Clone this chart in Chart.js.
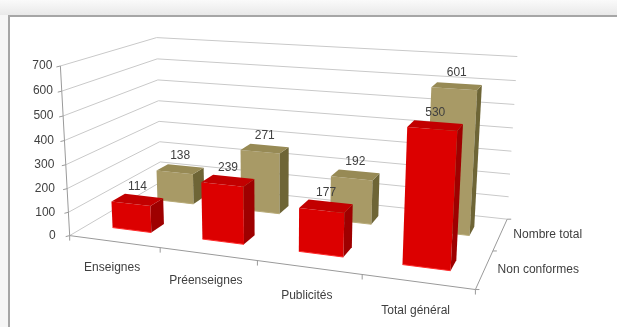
<!DOCTYPE html>
<html>
<head>
<meta charset="utf-8">
<script src="https://cdn.jsdelivr.net/npm/chart.js@4.4.1/dist/chart.umd.min.js"></script>
<style>
  html, body { margin: 0; padding: 0; background: #ffffff; }
  #wrap { position: relative; width: 617px; height: 327px; overflow: hidden; background: #ffffff; }
  #topband { position: absolute; left: 0; top: 0; width: 617px; height: 15px;
    background: linear-gradient(#fafafa, #e9e9e9); }
  #frame { position: absolute; left: 8px; top: 15px; width: 640px; height: 340px;
    border-top: 2px solid #a6a6a6; border-left: 2px solid #a6a6a6; background: #ffffff; }
  #leftband { position: absolute; left: 0; top: 15px; width: 8px; height: 320px; background: #f6f6f6; }
  canvas { position: absolute; left: 0; top: 0; }
</style>
</head>
<body>
<div id="wrap">
  <div id="topband"></div>
  <div id="leftband"></div>
  <div id="frame"></div>
  <canvas id="c" width="617" height="327"></canvas>
</div>
<script>
// ---------------- data ----------------
const categories = ['Enseignes', 'Préenseignes', 'Publicités', 'Total général'];
const seriesLabels = ['Non conformes', 'Nombre total'];
const nonConformes = [114, 239, 177, 530];
const nombreTotal = [138, 271, 192, 601];
const yTickValues = [0, 100, 200, 300, 400, 500, 600, 700];

// ---------------- style / layout ----------------
const FONT = '12px "Liberation Sans", Arial, sans-serif';
const TEXT_COLOR = '#404040';
const GRID_COLOR = '#c9c9c9';
const AXIS_COLOR = '#9a9a9a';
const seriesFaces = [
  { front: '#dc0000', side: '#9e0000', top: '#c20000', edge: '#ff2a2a' },
  { front: '#a89a66', side: '#6e6536', top: '#978a55', edge: '#b8ab78' }
];
// Perspective frame of the 3D box: (u along categories, v along values, d in depth) -> canvas pixel
const frameAnchors = [
  [0, 0, 0, 71, 233], [0, 1, 0, 59, 65], [0, 0, 1, 159, 183], [0, 1, 1, 158, 38],
  [1, 1, 1, 517, 57], [1, 0, 1, 508, 217], [1, 0, 0, 475, 289],
  [0.25, 0, 0, 161, 249], [0.5, 0, 0, 258, 261], [0.75, 0, 0, 361, 277], [1, 0, 0.5, 493, 251]
];
const BAR_FRACTION = 0.44;   // bar width relative to category width
const DEPTH_FRACTION = 0.28; // bar depth relative to series row depth

function solveLinear(A, b) {
  const n = b.length;
  for (let c = 0; c < n; c++) {
    let p = c;
    for (let r = c + 1; r < n; r++) if (Math.abs(A[r][c]) > Math.abs(A[p][c])) p = r;
    [A[c], A[p]] = [A[p], A[c]]; [b[c], b[p]] = [b[p], b[c]];
    for (let r = c + 1; r < n; r++) {
      const f = A[r][c] / A[c][c];
      for (let k = c; k < n; k++) A[r][k] -= f * A[c][k];
      b[r] -= f * b[c];
    }
  }
  const x = new Array(n).fill(0);
  for (let r = n - 1; r >= 0; r--) {
    let s = b[r];
    for (let k = r + 1; k < n; k++) s -= A[r][k] * x[k];
    x[r] = s / A[r][r];
  }
  return x;
}
function fitCamera(pts) {
  const S = 100;
  const A = Array.from({ length: 11 }, () => new Array(11).fill(0));
  const b = new Array(11).fill(0);
  pts.forEach(([X, Y, Z, px, py]) => {
    const x = px / S, y = py / S;
    const rows = [
      [[X, Y, Z, 1, 0, 0, 0, 0, -x * X, -x * Y, -x * Z], x],
      [[0, 0, 0, 0, X, Y, Z, 1, -y * X, -y * Y, -y * Z], y]
    ];
    rows.forEach(([r, rhs]) => {
      for (let i = 0; i < 11; i++) {
        b[i] += r[i] * rhs;
        for (let j = 0; j < 11; j++) A[i][j] += r[i] * r[j];
      }
    });
  });
  const p = solveLinear(A, b);
  return (X, Y, Z) => {
    const w = p[8] * X + p[9] * Y + p[10] * Z + 1;
    return { x: S * (p[0] * X + p[1] * Y + p[2] * Z + p[3]) / w,
             y: S * (p[4] * X + p[5] * Y + p[6] * Z + p[7]) / w };
  };
}
const P = fitCamera(frameAnchors);

function poly(ctx, pts, fill) {
  ctx.beginPath();
  pts.forEach((q, i) => { const s = P(q[0], q[1], q[2]); i ? ctx.lineTo(s.x, s.y) : ctx.moveTo(s.x, s.y); });
  ctx.closePath();
  ctx.fillStyle = fill; ctx.fill();
}
function line(ctx, a, b, color) {
  const s = P(a[0], a[1], a[2]), e = P(b[0], b[1], b[2]);
  ctx.beginPath(); ctx.moveTo(s.x, s.y); ctx.lineTo(e.x, e.y);
  ctx.strokeStyle = color; ctx.lineWidth = 1; ctx.stroke();
}

const bars3d = {
  id: 'bars3d',
  afterDatasetsDraw(chart) {
    const ctx = chart.ctx, xs = chart.scales.x, ys = chart.scales.y, area = chart.chartArea;
    const uOf = px => (px - area.left) / area.width;
    const y0 = ys.getPixelForValue(ys.min), yTop = ys.getPixelForValue(ys.max);
    const vOf = val => (y0 - ys.getPixelForValue(val)) / (y0 - yTop);
    const nCat = chart.data.labels.length, nSer = chart.data.datasets.length;
    const catW = uOf(xs.getPixelForValue(1)) - uOf(xs.getPixelForValue(0));
    ctx.save();
    // walls gridlines
    ys.ticks.forEach(t => {
      const v = vOf(t.value);
      line(ctx, [0, v, 0], [0, v, 1], GRID_COLOR);
      line(ctx, [0, v, 1], [1, v, 1], GRID_COLOR);
    });
    // axes
    line(ctx, [0, 0, 0], [0, 1, 0], AXIS_COLOR);
    line(ctx, [0, 0, 0], [1, 0, 0], AXIS_COLOR);
    line(ctx, [1, 0, 0], [1, 0, 1], AXIS_COLOR);
    // ticks and y labels
    ctx.font = FONT; ctx.fillStyle = TEXT_COLOR;
    ctx.textAlign = 'right'; ctx.textBaseline = 'middle';
    ys.ticks.forEach(t => {
      const v = vOf(t.value); const s = P(0, v, 0);
      ctx.beginPath(); ctx.moveTo(s.x, s.y); ctx.lineTo(s.x - 4, s.y + 1);
      ctx.strokeStyle = AXIS_COLOR; ctx.stroke();
      ctx.fillStyle = TEXT_COLOR;
      ctx.fillText(String(t.value), s.x - 8 - 6 * (1 - v), s.y);
    });
    for (let k = 0; k <= nCat; k++) {
      const s = P(k / nCat, 0, 0);
      ctx.beginPath(); ctx.moveTo(s.x, s.y); ctx.lineTo(s.x, s.y + 5);
      ctx.strokeStyle = AXIS_COLOR; ctx.stroke();
    }
    for (let k = 0; k <= nSer; k++) {
      const s = P(1, 0, k / nSer);
      ctx.beginPath(); ctx.moveTo(s.x, s.y); ctx.lineTo(s.x + 4, s.y);
      ctx.strokeStyle = AXIS_COLOR; ctx.stroke();
    }
    // bars: back row first, left to right
    const labels = [];
    for (let s = nSer - 1; s >= 0; s--) {
      const ds = chart.data.datasets[s], faces = seriesFaces[s];
      const dc = (s + 0.5) / nSer, hd = DEPTH_FRACTION / nSer / 2;
      const d0 = dc - hd, d1 = dc + hd;
      ds.data.forEach((val, i) => {
        const uc = uOf(xs.getPixelForValue(i)), hu = catW * BAR_FRACTION / 2;
        const u0 = uc - hu, u1 = uc + hu, v = vOf(val);
        poly(ctx, [[u0, 0, d0], [u1, 0, d0], [u1, v, d0], [u0, v, d0]], faces.front);
        poly(ctx, [[u1, 0, d0], [u1, 0, d1], [u1, v, d1], [u1, v, d0]], faces.side);
        poly(ctx, [[u0, v, d0], [u1, v, d0], [u1, v, d1], [u0, v, d1]], faces.top);
        line(ctx, [u0, 0, d0], [u1, 0, d0], faces.edge);
        labels.push({ p: P(uc, v, dc), text: String(val) });
      });
    }
    ctx.fillStyle = TEXT_COLOR; ctx.font = FONT;
    ctx.textAlign = 'center'; ctx.textBaseline = 'middle';
    labels.forEach(l => ctx.fillText(l.text, l.p.x, l.p.y - 13));
    // category labels
    chart.data.labels.forEach((lab, i) => {
      const s = P(uOf(xs.getPixelForValue(i)), 0, 0);
      ctx.fillText(lab, s.x - 2, s.y + 26 + i);
    });
    // series (depth) labels
    ctx.textAlign = 'left';
    chart.data.datasets.forEach((ds, s) => {
      const p = P(1, 0, (s + 0.5) / nSer);
      ctx.fillText(ds.label, p.x + 13, p.y);
    });
    ctx.restore();
  }
};

new Chart(document.getElementById('c'), {
  type: 'bar',
  data: {
    labels: categories,
    datasets: [
      { label: seriesLabels[0], data: nonConformes, backgroundColor: 'rgba(0,0,0,0)' },
      { label: seriesLabels[1], data: nombreTotal, backgroundColor: 'rgba(0,0,0,0)' }
    ]
  },
  options: {
    responsive: false,
    animation: false,
    devicePixelRatio: 1,
    layout: { padding: 0 },
    plugins: { legend: { display: false }, tooltip: { enabled: false } },
    scales: {
      x: { display: false, offset: true },
      y: { display: false, min: 0, max: yTickValues[yTickValues.length - 1],
           afterBuildTicks: axis => { axis.ticks = yTickValues.map(v => ({ value: v })); } }
    }
  },
  plugins: [bars3d]
});
</script>
</body>
</html>
